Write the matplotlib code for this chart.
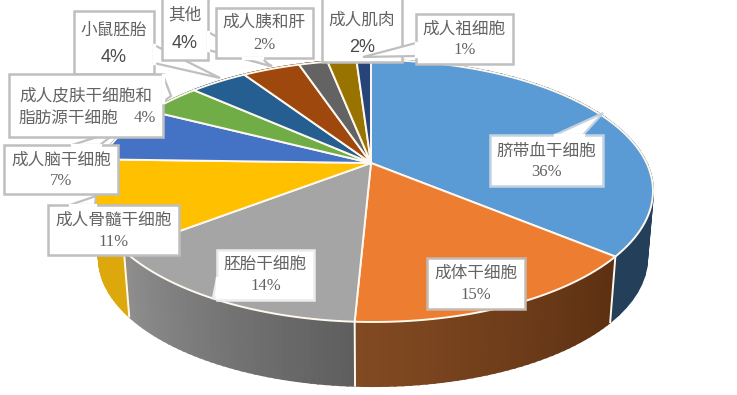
# -*- coding: utf-8 -*-
import numpy as np
from matplotlib import pyplot as plt
from matplotlib.colors import to_rgb

plt.rcParams['font.family'] = ['Noto Sans CJK SC', 'DejaVu Sans']

names = ['脐带血干细胞', '成体干细胞', '胚胎干细胞', '成人骨髓干细胞', '成人脑干细胞',
         '成人皮肤干细胞和', '小鼠胚胎', '其他', '成人胰和肝', '成人肌肉', '成人祖细胞']
values = [36, 15, 14, 11, 7, 4, 4, 4, 2, 2, 1]

top_colors = ['#5B9BD5', '#ED7D31', '#A5A5A5', '#FFC000', '#4472C4', '#70AD47',
              '#255E91', '#9E480E', '#636363', '#997300', '#264478']
wall_left = ['#243F5A', '#824A22', '#8E8E8E', '#DCA80C', '#2F4F88', '#4E7A32',
             '#1A4266', '#6E320A', '#454545', '#6B5000', '#1A3054']
wall_right = ['#243F5A', '#5C3012', '#5E5E5E', '#DCA80C', '#2F4F88', '#4E7A32',
              '#1A4266', '#6E320A', '#454545', '#6B5000', '#1A3054']

# 上面と下面の楕円 (pixel)
TOP = (373, 191, 280, 131)
BOTTOM = (373, 258, 274, 128)
APEX = (371, 163)
SKEW = -0.19
START = -0.5
TEXT = '#636363'

# box: x0, x1, y0, y1 / pointer: 3 points / text y of both lines
labels = [
    dict(i=3, box=(48, 179, 205, 255), ptr=[(70, 205), (96, 196), (95, 205)], ty=(220, 242), edge='#BFBFBF'),
    dict(i=4, box=(4, 118, 145, 194), ptr=[(72, 145), (119, 130), (100, 145)], ty=(160, 181), edge='#BFBFBF'),
    dict(i=6, box=(74, 154, 11, 74), ptr=[(154, 45), (220, 78), (154, 63)], ty=(30, 58), edge='#BFBFBF', big=True),
    dict(i=7, box=(162, 208, -3, 60), ptr=[(208, 32), (272, 66), (208, 50)], ty=(15, 44), edge='#BFBFBF', big=True),
    dict(i=5, box=(9, 163, 74, 137), ptr=[(163, 75), (171, 96), (163, 102)], ty=(96, 118), edge='#BFBFBF'),
    dict(i=8, box=(216, 313, 8, 58), ptr=[(243, 58), (270, 66), (262, 58)], ty=(22, 45), edge='#BFBFBF'),
    dict(i=9, box=(322, 402, -3, 62), ptr=None, ty=(20, 47), edge='#BFBFBF', big=True),
    dict(i=10, box=(416, 513, 14, 64), ptr=[(416, 43), (363, 57), (416, 56)], ty=(29, 50), edge='#BFBFBF'),
    dict(i=2, box=(217, 314, 250, 300), ptr=[(217, 278), (213, 298), (217, 297)], ty=(265, 286), edge='#ECECEC'),
    dict(i=1, box=(427, 525, 258, 309), ptr=None, ty=(273, 295), edge='#C4BAB2'),
    dict(i=0, box=(490, 603, 135, 186), ptr=[(555, 135), (603, 113), (583, 135)], ty=(151, 172), edge='#C3D2E0'),
]


def rim(theta, ellipse):
    # 円周上の角度を透視の楕円上に移す
    t = np.radians(np.asarray(theta, dtype=float))
    ux, uy = np.sin(t), -np.cos(t)
    d = 1 + SKEW * uy
    nx = ux * np.sqrt(1 - SKEW ** 2) / d
    ny = (uy + SKEW) / d
    cx, cy, a, b = ellipse
    return cx + a * nx, cy + b * ny


fig = plt.figure(figsize=(7.37, 3.95), dpi=100)
ax = fig.add_axes([0, 0, 1, 1])
ax.set_xlim(0, 737)
ax.set_ylim(395, 0)
ax.axis('off')

edges = START + np.cumsum([0] + values) / sum(values) * 360

# 側面
for k in range(len(values)):
    th = np.linspace(edges[k], edges[k + 1], 40)
    tx, ty = rim(th, TOP)
    bx, by = rim(th, BOTTOM)
    c0 = np.array(to_rgb(wall_left[k]))
    c1 = np.array(to_rgb(wall_right[k]))
    # 時計回りなので左の色は終わりの角度側
    for j in range(len(th) - 1):
        c = c1 + (c0 - c1) * j / (len(th) - 2)
        ax.fill([tx[j], tx[j + 1], bx[j + 1], bx[j]], [ty[j], ty[j + 1], by[j + 1], by[j]],
                color=c, lw=1.5, zorder=1)

for e in edges:
    tx, ty = rim(e, TOP)
    bx, by = rim(e, BOTTOM)
    ax.plot([tx, bx], [ty, by], color='#FFF8EE', lw=1.4, zorder=2)

# 上面
for k in range(len(values)):
    th = np.linspace(edges[k], edges[k + 1], 80)
    tx, ty = rim(th, TOP)
    ax.fill(np.r_[APEX[0], tx], np.r_[APEX[1], ty], facecolor=top_colors[k],
            edgecolor='#FFF8EE', lw=1.4, joinstyle='round', zorder=3)

# ラベル
for n, lab in enumerate(labels):
    z = 10 + n
    x0, x1, y0, y1 = lab['box']
    ax.fill([x0, x1, x1, x0], [y0, y0, y1, y1], facecolor='white', edgecolor=lab['edge'], lw=1.8, zorder=z)
    if lab['ptr'] is not None:
        px = [p[0] for p in lab['ptr']]
        py = [p[1] for p in lab['ptr']]
        ax.fill(px, py, facecolor='white', edgecolor=lab['edge'], lw=1.6, zorder=z)
        # 付け根の線を消す
        ax.plot([px[0], px[2]], [py[0], py[2]], color='white', lw=2.4, zorder=z)
    xc = (x0 + x1) / 2
    i = lab['i']
    pct = '%d%%' % values[i]
    ax.text(xc, lab['ty'][0], names[i], ha='center', va='center', fontsize=12, weight='light', color=TEXT, zorder=z)
    if i == 5:
        ax.text(xc - 18, lab['ty'][1], '脂肪源干细胞', ha='center', va='center', fontsize=12, weight='light', color=TEXT, zorder=z)
        ax.text(xc + 59, lab['ty'][1], pct, ha='center', va='center', fontsize=12,
                family='Liberation Serif', color=TEXT, zorder=z)
    elif lab.get('big'):
        ax.text(xc, lab['ty'][1], pct, ha='center', va='center', fontsize=13,
                family='Liberation Sans', color='#4A4A4A', zorder=z)
    else:
        ax.text(xc, lab['ty'][1], pct, ha='center', va='center', fontsize=12,
                family='Liberation Serif', color=TEXT, zorder=z)

plt.savefig('out.png', dpi=100)
